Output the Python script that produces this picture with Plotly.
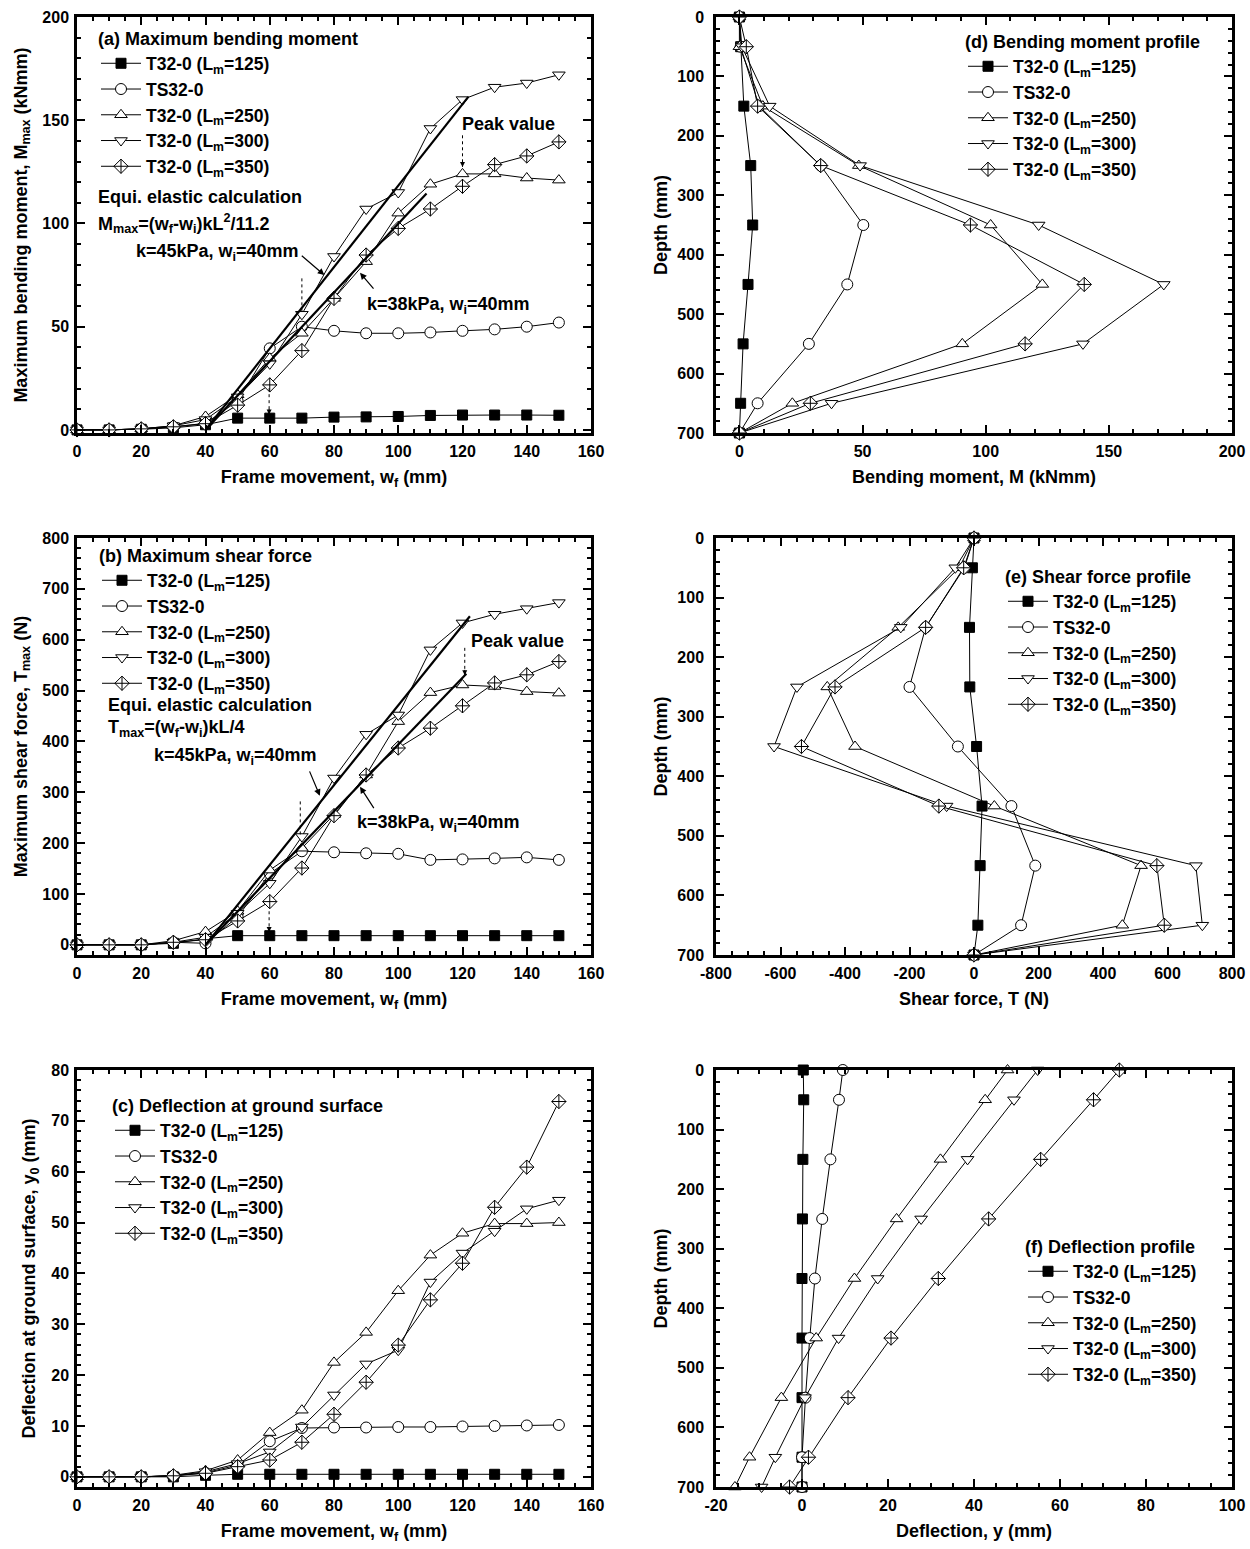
import plotly.graph_objects as go
from plotly.subplots import make_subplots

# ---------------- data ----------------
wf = [0, 10, 20, 30, 40, 50, 60, 70, 80, 90, 100, 110, 120, 130, 140, 150]
depth = [0, 50, 150, 250, 350, 450, 550, 650, 700]

series_names = ["T32-0 (L<sub>m</sub>=125)", "TS32-0", "T32-0 (L<sub>m</sub>=250)",
                "T32-0 (L<sub>m</sub>=300)", "T32-0 (L<sub>m</sub>=350)"]

# (a) maximum bending moment (kNmm)
M_125 = [0, 0, 0.3, 1.0, 2.5, 5.7, 5.7, 5.7, 6.2, 6.3, 6.5, 7.0, 7.2, 7.2, 7.2, 7.1]
M_TS = [0, 0, 0.5, 1.5, 3.2, 14, 39.5, 50, 48, 46.8, 46.8, 47.2, 48, 48.7, 50, 52]
M_250 = [0, 0, 0.5, 2, 6.5, 17, 34.7, 46.8, 63.7, 81.5, 105, 119, 124, 124, 122, 121]
M_300 = [0, 0, 0.5, 2, 5, 16, 32, 56, 84, 107, 115, 146, 160, 166, 168, 172]
M_350 = [0, 0, 0.5, 1.5, 3, 12, 21.8, 38.4, 63.7, 84.7, 97.6, 107, 118, 128.5, 132.7, 139.5]
calc_a45_x = [40, 121.8]
calc_a45_y = [0, 161.3]
calc_a38_x = [40, 108.8]
calc_a38_y = [0, 114.5]

# (b) maximum shear force (N)
T_125 = [0, 0, 0, 3, 12, 18, 18, 18, 18, 18, 18, 18, 18, 18, 18, 18]
T_TS = [0, 0, 0, 5, 3, 55, 140, 184, 182, 180, 179, 167, 168, 170, 172, 167]
T_250 = [0, 0, 0, 8, 26, 66, 147, 190, 256, 334, 439, 496, 511, 508, 498, 495]
T_300 = [0, 0, 0, 5, 15, 62, 121, 213, 328, 414, 452, 580, 633, 650, 661, 673]
T_350 = [0, 0, 0, 5, 10, 47, 85, 151, 254, 334, 387, 426, 470, 515, 531, 557]
calc_b45_x = [40, 122.3]
calc_b45_y = [0, 646]
calc_b38_x = [40, 121.2]
calc_b38_y = [0, 533]

# (c) deflection at ground surface (mm)
Y_125 = [0, 0, 0, 0, 0.3, 0.5, 0.5, 0.5, 0.5, 0.5, 0.5, 0.5, 0.5, 0.5, 0.5, 0.5]
Y_TS = [0, 0, 0, 0.2, 0.8, 2.3, 7.0, 9.6, 9.7, 9.7, 9.8, 9.8, 9.9, 10.0, 10.1, 10.2]
Y_250 = [0, 0, 0, 0.3, 1.2, 3.3, 8.7, 13.1, 22.5, 28.4, 36.6, 43.6, 47.9, 49.8, 49.8, 50.0]
Y_300 = [0, 0, 0, 0.2, 1.0, 2.6, 4.9, 9.8, 16.1, 22.2, 24.9, 38.3, 44.0, 48.3, 52.7, 54.4]
Y_350 = [0, 0, 0, 0.2, 0.7, 2.0, 3.3, 6.8, 12.3, 18.6, 25.9, 34.8, 42.0, 53.0, 60.9, 73.8]

# (d) bending moment profile (kNmm)
D_125 = [0, 0.5, 1.8, 4.6, 5.4, 3.5, 1.5, 0.5, 0]
D_TS = [0, 0.5, 8, 33, 50.3, 43.8, 28.2, 7.4, 0]
D_250 = [0, 0, 9.5, 48.5, 102, 123, 90.5, 21.5, 0]
D_300 = [0, 1, 12.3, 49, 121.5, 172.3, 139.5, 37.4, 0]
D_350 = [0, 2.8, 7.4, 33, 93.8, 140, 116, 28.8, 0]

# (e) shear force profile (N)
E_125 = [0, -5, -14, -13, 8, 25, 19, 12, 0]
E_TS = [0, -30, -150, -200, -50, 116, 190, 146, 0]
E_250 = [0, -46, -235, -455, -369, 63, 518, 460, 0]
E_300 = [0, -58, -227, -549, -620, -85, 688, 708, 0]
E_350 = [0, -32, -150, -431, -535, -109, 567, 590, 0]

# (f) deflection profile (mm)
F_125 = [0.3, 0.4, 0.2, 0.1, 0, 0, 0, 0, 0]
F_TS = [9.5, 8.6, 6.6, 4.7, 3.0, 1.8, 0.8, 0, 0]
F_250 = [47.8, 42.6, 32.2, 22.0, 12.2, 3.3, -4.8, -12.2, -15.6]
F_300 = [54.8, 49.3, 38.5, 27.7, 17.6, 8.5, 0.7, -6.2, -9.4]
F_350 = [73.8, 67.8, 55.5, 43.4, 31.7, 20.7, 10.7, 1.5, -2.9]

# tick values (labels written with a plain hyphen as in the original)
e_ticks = [-800, -600, -400, -200, 0, 200, 400, 600, 800]
f_ticks = [-20, 0, 20, 40, 60, 80, 100]

# ---------------- styles ----------------
symbols = ["square", "circle", "triangle-up", "triangle-down", "diamond-cross"]
fills = ["black", "white", "white", "white", "white"]
msizes = [10, 11, 11, 11, 11]
FONT = "Liberation Sans, Arial, sans-serif"

W, H = 1250, 1549
fig = make_subplots(rows=3, cols=2)

def px_x(p):
    return p / W

def px_y(p):
    return 1 - p / H

col_dom = [[px_x(77), px_x(591)], [px_x(716), px_x(1232)]]
row_dom = [[px_y(433), px_y(17)], [px_y(955), px_y(538)], [px_y(1487), px_y(1070)]]

def add_group(row, col, xs_list, ys_list, legend):
    for i in range(5):
        fig.add_trace(go.Scatter(
            x=xs_list[i], y=ys_list[i], mode="lines+markers", name=series_names[i],
            line=dict(color="black", width=1),
            marker=dict(symbol=symbols[i], size=msizes[i], color=fills[i],
                        line=dict(color="black", width=1)),
            legend=legend, cliponaxis=False), row=row, col=col)

add_group(1, 1, [wf] * 5, [M_125, M_TS, M_250, M_300, M_350], "legend")
add_group(2, 1, [wf] * 5, [T_125, T_TS, T_250, T_300, T_350], "legend3")
add_group(3, 1, [wf] * 5, [Y_125, Y_TS, Y_250, Y_300, Y_350], "legend5")
add_group(1, 2, [D_125, D_TS, D_250, D_300, D_350], [depth] * 5, "legend2")
add_group(2, 2, [E_125, E_TS, E_250, E_300, E_350], [depth] * 5, "legend4")
add_group(3, 2, [F_125, F_TS, F_250, F_300, F_350], [depth] * 5, "legend6")

for (cx, cy, r) in [(calc_a45_x, calc_a45_y, 1), (calc_a38_x, calc_a38_y, 1),
                    (calc_b45_x, calc_b45_y, 2), (calc_b38_x, calc_b38_y, 2)]:
    fig.add_trace(go.Scatter(x=cx, y=cy, mode="lines", line=dict(color="black", width=2.2),
                             showlegend=False, hoverinfo="skip"), row=r, col=1)

# ---------------- axes ----------------
def style_axis(rng, dtick, minor, title, ticks=None):
    d = dict(range=rng, dtick=dtick, tick0=0, showgrid=False, zeroline=False,
             showline=True, linecolor="black", linewidth=2.5, mirror="allticks",
             ticks="inside", ticklen=8, tickwidth=2, tickcolor="black",
             minor=dict(ticks="inside", ticklen=4, tickwidth=1.5, tickcolor="black",
                        dtick=minor, showgrid=False),
             tickfont=dict(family=FONT, size=16, color="black", weight="bold"),
             title=dict(text=title, font=dict(family=FONT, size=18, color="black", weight="bold")),
             automargin=False)
    if ticks is not None:
        d["tickmode"] = "array"
        d["tickvals"] = ticks
        d["ticktext"] = [str(t) for t in ticks]
    return d

axes_cfg = {
    1: (1, 1, ([0, 160], 20, 5, "Frame movement, w<sub>f</sub> (mm)"),
        ([-1.5, 200], 50, 10, "Maximum bending moment, M<sub>max</sub> (kNmm)")),
    2: (1, 2, ([-9.5, 200], 50, 10, "Bending moment, M (kNmm)"),
        ([700, 0], 100, 20, "Depth (mm)")),
    3: (2, 1, ([0, 160], 20, 5, "Frame movement, w<sub>f</sub> (mm)"),
        ([-20, 800], 100, 20, "Maximum shear force, T<sub>max</sub> (N)")),
    4: (2, 2, ([-800, 800], 200, 50, "Shear force, T (N)", e_ticks),
        ([700, 0], 100, 20, "Depth (mm)")),
    5: (3, 1, ([0, 160], 20, 5, "Frame movement, w<sub>f</sub> (mm)"),
        ([-2, 80], 10, 2, "Deflection at ground surface, y<sub>0</sub> (mm)")),
    6: (3, 2, ([-20, 100], 20, 5, "Deflection, y (mm)", f_ticks),
        ([700, 0], 100, 20, "Depth (mm)")),
}
for k, (r, c, xc, yc) in axes_cfg.items():
    xa = style_axis(*xc)
    ya = style_axis(*yc)
    xa["domain"] = col_dom[c - 1]
    ya["domain"] = row_dom[r - 1]
    xa["ticklabelstandoff"] = 2
    ya["ticklabelstandoff"] = 2 if c == 1 else 6
    xa["title"]["standoff"] = 12
    ya["title"]["standoff"] = 11 if c == 1 else 6
    sfx = "" if k == 1 else str(k)
    fig.layout["xaxis" + sfx].update(xa)
    fig.layout["yaxis" + sfx].update(ya)

# ---------------- legends ----------------
legend_titles = {
    "legend": ("(a) Maximum bending moment", 96, 22),
    "legend2": ("(d) Bending moment profile", 963, 25),
    "legend3": ("(b) Maximum shear force", 97, 539),
    "legend4": ("(e) Shear force profile", 1003, 560),
    "legend5": ("(c) Deflection at ground surface", 110, 1089),
    "legend6": ("(f) Deflection profile", 1023, 1230),
}
for key, (ttl, lx, ly) in legend_titles.items():
    fig.layout[key] = dict(
        x=px_x(lx), y=px_y(ly), xanchor="left", yanchor="top",
        bgcolor="rgba(0,0,0,0)", borderwidth=0,
        font=dict(family=FONT, size=17.5, color="black", weight="bold"),
        title=dict(text=ttl, side="top", font=dict(family=FONT, size=18, color="black", weight="bold")),
        itemwidth=40, tracegroupgap=0, itemclick=False)

# ---------------- annotations ----------------
def text(xr, yr, x, y, s, anchor="left"):
    fig.add_annotation(xref=xr, yref=yr, x=x, y=y, text=s, showarrow=False,
                       xanchor=anchor, yanchor="middle",
                       font=dict(family=FONT, size=18, color="black", weight="bold"))

def arrow(xr, yr, tx, ty, hx, hy):
    fig.add_annotation(xref=xr, yref=yr, axref=xr, ayref=yr, x=hx, y=hy, ax=tx, ay=ty,
                       text="", showarrow=True, arrowhead=2, arrowsize=1.1, arrowwidth=1.2,
                       arrowcolor="black")

def dotted(xr, yr, x, y0, y1, head=True):
    fig.add_shape(type="line", xref=xr, yref=yr, x0=x, x1=x, y0=y0, y1=y1,
                  line=dict(color="black", width=1, dash="dot"))
    if head:
        fig.add_annotation(xref=xr, yref=yr, x=x, y=y1, ax=0, ay=-7, text="",
                           showarrow=True, arrowhead=2, arrowsize=1, arrowwidth=1,
                           arrowcolor="black")

# panel (a)
text("x", "y", 6.0, 113, "Equi. elastic calculation")
text("x", "y", 6.0, 100, "M<sub>max</sub>=(w<sub>f</sub>-w<sub>i</sub>)kL<sup>2</sup>/11.2")
text("x", "y", 17.6, 86, "k=45kPa, w<sub>i</sub>=40mm")
text("x", "y", 89.7, 60.5, "k=38kPa, w<sub>i</sub>=40mm")
text("x", "y", 119.2, 148, "Peak value")
arrow("x", "y", 69.5, 85, 77, 75)
arrow("x", "y", 92.7, 67.7, 88.1, 76.1)
dotted("x", "y", 120, 142.7, 127.4)
dotted("x", "y", 70, 73.4, 57, head=False)
dotted("x", "y", 59.8, 20.2, 7.5)

# panel (b)
text("x3", "y3", 9.0, 472, "Equi. elastic calculation")
text("x3", "y3", 9.0, 426, "T<sub>max</sub>=(w<sub>f</sub>-w<sub>i</sub>)kL/4")
text("x3", "y3", 23.4, 370, "k=45kPa, w<sub>i</sub>=40mm")
text("x3", "y3", 86.4, 239, "k=38kPa, w<sub>i</sub>=40mm")
text("x3", "y3", 122.0, 597, "Peak value")
arrow("x3", "y3", 72.2, 344, 75.6, 293)
arrow("x3", "y3", 92.7, 266, 88.1, 311)
dotted("x3", "y3", 120.7, 584, 530)
dotted("x3", "y3", 69.5, 282, 215, head=False)
dotted("x3", "y3", 59.8, 66, 25)

fig.update_layout(
    width=W, height=H, margin=dict(l=0, r=0, t=0, b=0),
    paper_bgcolor="white", plot_bgcolor="white",
    font=dict(family=FONT, size=16, color="black", weight="bold"),
)

fig.write_html(
    "out.html",
    config={"displayModeBar": False},
    post_script="document.body.style.margin='0px';document.body.style.padding='0px';"
                "document.body.style.overflow='hidden';",
)
